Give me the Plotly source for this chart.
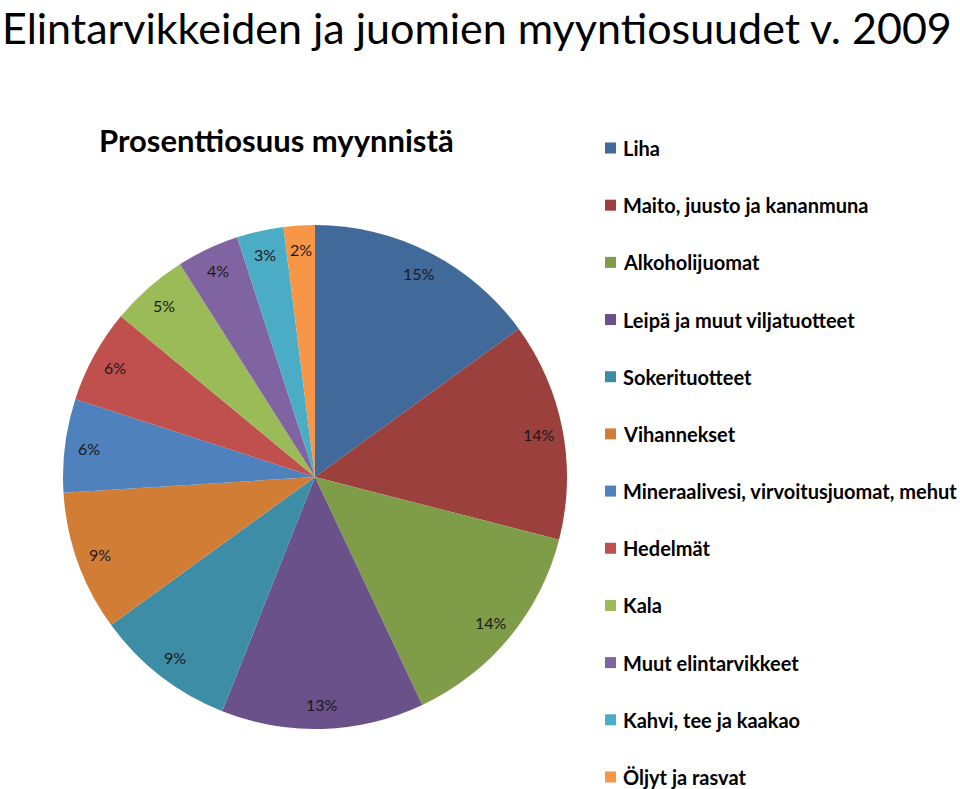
import math
import plotly.graph_objects as go

W, H = 960, 789

categories = ["Liha", "Maito, juusto ja kananmuna", "Alkoholijuomat",
              "Leipä ja muut viljatuotteet", "Sokerituotteet", "Vihannekset",
              "Mineraalivesi, virvoitusjuomat, mehut", "Hedelmät", "Kala",
              "Muut elintarvikkeet", "Kahvi, tee ja kaakao", "Öljyt ja rasvat"]
values = [15, 14, 14, 13, 9, 9, 6, 6, 5, 4, 3, 2]
colors = ["#41699A", "#9C403D", "#7F9C48", "#6A5189", "#3C8DA5", "#D17D36",
          "#4F81BD", "#C0504D", "#9BBB59", "#8064A2", "#4BACC6", "#F79646"]

title_text = "Elintarvikkeiden ja juomien myyntiosuudet v. 2009"
subtitle_text = "Prosenttiosuus myynnistä"

# pie geometry (pixels)
cx, cy, R = 315, 477, 252

fig = go.Figure()
fig.add_trace(go.Pie(
    labels=categories, values=values, sort=False, direction="clockwise",
    rotation=0, marker=dict(colors=colors, line=dict(width=0)),
    textinfo="none", hoverinfo="label+percent", showlegend=False,
    domain=dict(x=[(cx - R) / W, (cx + R) / W],
                y=[1 - (cy + R) / H, 1 - (cy - R) / H]),
))

annotations = []
total = sum(values)
cum = 0
for v in values:
    mid = (cum + v / 2) / total * 2 * math.pi
    cum += v
    px = cx + 0.905 * R * math.sin(mid)
    py = cy - 0.905 * R * math.cos(mid)
    annotations.append(dict(
        x=px / W, y=1 - py / H, xref="paper", yref="paper",
        text=f"{round(v / total * 100)}%", showarrow=False,
        font=dict(family="Lato, Open Sans, sans-serif", size=16, color="#1a1a1a"),
        xanchor="center", yanchor="middle"))

# title and subtitle
annotations.append(dict(x=0.0, y=1.0, xref="paper", yref="paper",
                        text=title_text, showarrow=False, xanchor="left",
                        yanchor="top",
                        font=dict(family="Lato, Open Sans, sans-serif", size=43, color="#000000")))
annotations.append(dict(x=276 / W, y=1 - 140 / H, xref="paper", yref="paper",
                        text=f"<b>{subtitle_text}</b>", showarrow=False,
                        xanchor="center", yanchor="middle",
                        font=dict(family="Lato, Open Sans, sans-serif", size=31, color="#000000")))

# manual legend
shapes = []
leg_y0, leg_dy = 148, 57.18
for i, (lab, col) in enumerate(zip(categories, colors)):
    y = leg_y0 + i * leg_dy
    shapes.append(dict(type="rect", xref="paper", yref="paper",
                       x0=605 / W, x1=616 / W, y0=1 - (y + 5.5) / H, y1=1 - (y - 5.5) / H,
                       fillcolor=col, line=dict(width=0)))
    annotations.append(dict(x=621 / W, y=1 - y / H, xref="paper", yref="paper",
                            text=f"<b>{lab}</b>", showarrow=False, xanchor="left",
                            yanchor="middle",
                            font=dict(family="Lato, Open Sans, sans-serif", size=20, color="#000000")))

fig.update_layout(width=W, height=H, margin=dict(l=0, r=0, t=0, b=0),
                  paper_bgcolor="white", plot_bgcolor="white",
                  annotations=annotations, shapes=shapes)

fig.write_html("out.html")
